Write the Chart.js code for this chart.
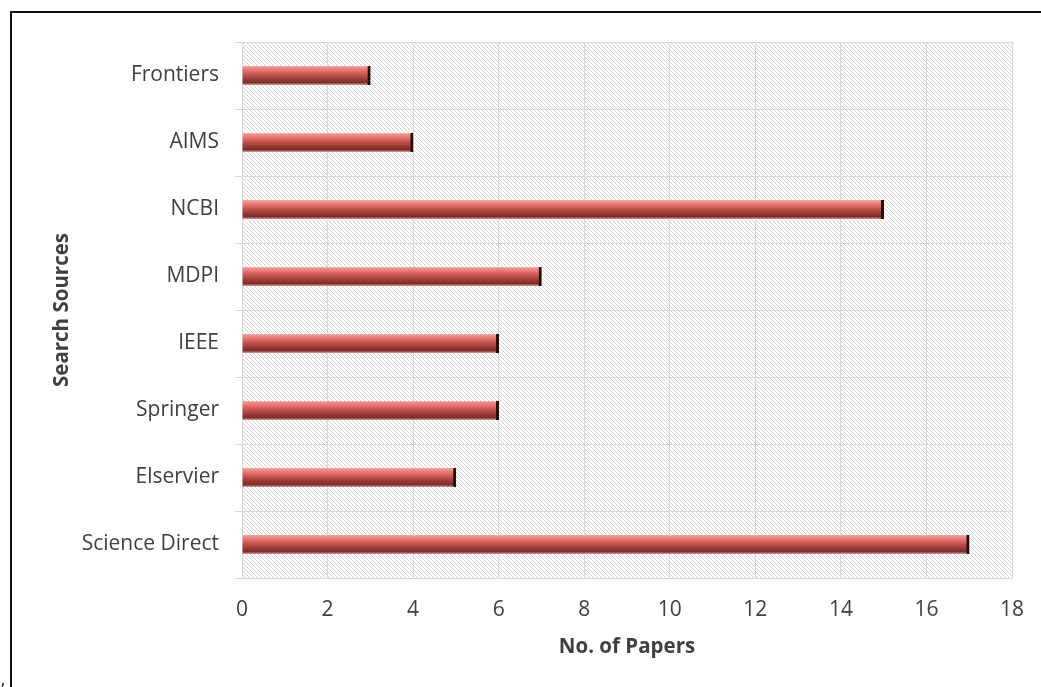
<!DOCTYPE html>
<html>
<head>
<meta charset="utf-8">
<script src="https://cdn.jsdelivr.net/npm/chart.js@4/dist/chart.umd.min.js"></script>
<style>
  html, body { margin: 0; padding: 0; background: #fff; }
  #wrap { position: relative; width: 1041px; height: 687px; overflow: hidden; }
  #frame { position: absolute; left: 10px; top: 11px; right: -5px; bottom: -5px;
           border-left: 2px solid #111; border-top: 2px solid #111; pointer-events: none; }
  #mark { position: absolute; left: 1px; top: 668px; font: 16px "Open Sans", sans-serif; color: #000; }
  canvas { position: absolute; left: 0; top: 0; }
</style>
</head>
<body>
<div id="wrap">
  <canvas id="c" width="1041" height="687"></canvas>
  <div id="frame"></div>
  <div id="mark">,</div>
</div>
<script>
const categories = ["Frontiers", "AIMS", "NCBI", "MDPI", "IEEE", "Springer", "Elservier", "Science Direct"];
const papers = [3, 4, 15, 7, 6, 6, 5, 17];
const xTicks = [0, 2, 4, 6, 8, 10, 12, 14, 16, 18];

const FONT = '"Open Sans", "Liberation Sans", sans-serif';

// hatch pattern for plot area
function makeHatch(ctx) {
  const p = document.createElement('canvas');
  p.width = 8; p.height = 8;
  const pc = p.getContext('2d');
  pc.fillStyle = '#ffffff';
  pc.fillRect(0, 0, 8, 8);
  pc.fillStyle = '#d2d2d2';
  for (let y = 0; y < 8; y++) {
    for (let x = 0; x < 8; x++) {
      if (((x - y) % 4 + 4) % 4 === 0) pc.fillRect(x, y, 1, 1);
    }
  }
  return ctx.createPattern(p, 'repeat');
}

const hatchPlugin = {
  id: 'hatch',
  beforeDraw(chart) {
    const { ctx, chartArea: a } = chart;
    ctx.save();
    ctx.fillStyle = makeHatch(ctx);
    ctx.fillRect(a.left, a.top, a.right - a.left, a.bottom - a.top);
    ctx.restore();
  }
};

const BAR_T = 19;
function barGradient(context) {
  const chart = context.chart;
  const ys = chart.scales && chart.scales.y;
  if (!ys || context.dataIndex === undefined) return '#c0504d';
  const yc = ys.getPixelForValue(context.dataIndex);
  if (!isFinite(yc)) return '#c0504d';
  const top = yc - BAR_T / 2, bot = yc + BAR_T / 2;
  const g = chart.ctx.createLinearGradient(0, top, 0, bot);
  g.addColorStop(0.0, '#eab0ae');
  g.addColorStop(0.1, '#f28a86');
  g.addColorStop(0.3, '#dc6a66');
  g.addColorStop(0.5, '#bd4f4b');
  g.addColorStop(0.72, '#923835');
  g.addColorStop(0.88, '#7c2d2b');
  g.addColorStop(1.0, '#dba3a1');
  return g;
}

new Chart(document.getElementById('c'), {
  type: 'bar',
  data: {
    labels: categories,
    datasets: [{
      data: papers,
      backgroundColor: barGradient,
      borderColor: '#2a0c0c',
      borderWidth: { top: 0, right: 3, bottom: 0, left: 0 },
      borderSkipped: false,
      barThickness: BAR_T
    }]
  },
  plugins: [hatchPlugin],
  options: {
    indexAxis: 'y',
    responsive: false,
    animation: false,
    devicePixelRatio: 1,
    layout: { padding: { top: 42, right: 29, left: 0, bottom: 0 } },
    plugins: { legend: { display: false }, tooltip: { enabled: false } },
    scales: {
      x: {
        type: 'linear',
        min: 0, max: 18,
        afterBuildTicks(scale) { scale.ticks = xTicks.map(v => ({ value: v })); },
        afterFit(scale) { scale.height = 109; scale.paddingLeft = 0; scale.paddingRight = 0; },
        grid: { color: '#d9d9d9', drawTicks: false, lineWidth: 1 },
        border: { color: '#d9d9d9' },
        ticks: { color: '#404040', font: { family: FONT, size: 21 }, padding: 19 },
        title: { display: true, text: 'No. of Papers', color: '#404040',
                 font: { family: FONT, size: 20.5, weight: 'bold' }, padding: { top: 0, bottom: 28 } }
      },
      y: {
        afterFit(scale) { scale.width = 242; scale.paddingTop = 0; scale.paddingBottom = 0; },
        grid: { color: '#d9d9d9', offset: true, tickLength: 7, lineWidth: 1 },
        border: { color: '#d9d9d9' },
        ticks: { color: '#404040', font: { family: FONT, size: 21 }, padding: 16 },
        title: { display: true, text: 'Search Sources', color: '#404040',
                 font: { family: FONT, size: 20.5, weight: 'bold' }, padding: { top: 50, bottom: 0 } }
      }
    }
  }
});
</script>
</body>
</html>
